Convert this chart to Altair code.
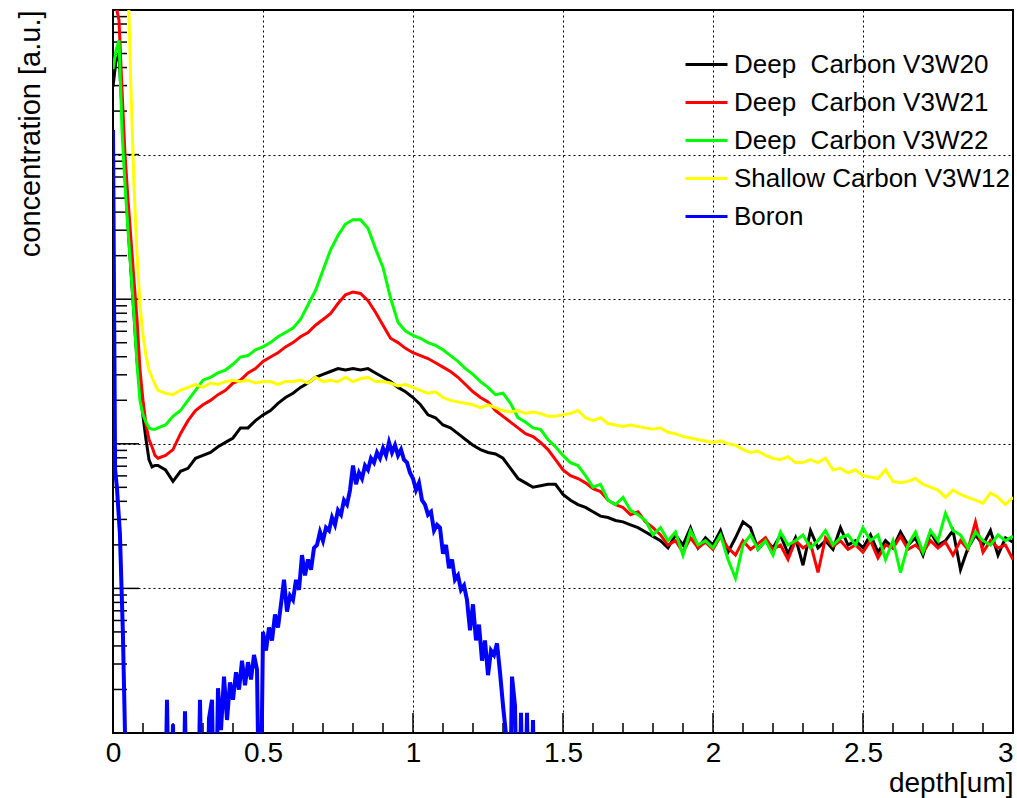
import altair as alt
import numpy as np
import pandas as pd

FONT = "Liberation Sans"

SERIES = ["Deep\u00a0 Carbon V3W20", "Deep\u00a0 Carbon V3W21", "Deep\u00a0 Carbon V3W22",
          "Shallow Carbon V3W12", "Boron"]
COLORS = ["#000000", "#ff0000", "#00ff00", "#ffff00", "#0000ff"]

# depth sampling (um)
HEAD_DEPTH = [0, 0.01, 0.02, 0.03, 0.04, 0.05, 0.06, 0.07, 0.08, 0.09, 0.10, 0.11, 0.12, 0.13, 0.14]
GRID_DEPTH = list(np.round(np.arange(0.15, 3.0001, 0.025), 3))
CARBON_DEPTH = HEAD_DEPTH + GRID_DEPTH

# log10(concentration)
V3W20_LOG = [4.47, 4.65, 4.69, 4.31, 3.86, 3.51, 3.19, 2.89, 2.58, 2.37, 2.19, 2.03, 1.89, 1.84, 1.85,
             1.85, 1.82, 1.74, 1.81, 1.83, 1.90, 1.92, 1.94, 1.98, 2.01,
             2.04, 2.11, 2.11, 2.16, 2.20, 2.23, 2.28, 2.32, 2.35, 2.39,
             2.42, 2.46, 2.48, 2.50, 2.52, 2.51, 2.52, 2.51, 2.52, 2.49,
             2.46, 2.43, 2.39, 2.36, 2.32, 2.27, 2.20, 2.18, 2.13, 2.11,
             2.07, 2.03, 1.99, 1.96, 1.94, 1.93, 1.90, 1.83, 1.76, 1.73,
             1.70, 1.71, 1.72, 1.72, 1.65, 1.61, 1.58, 1.56, 1.53, 1.50,
             1.49, 1.47, 1.46, 1.44, 1.42, 1.39, 1.36,
             1.33, 1.28, 1.37, 1.30, 1.42, 1.28, 1.35, 1.30, 1.40, 1.25, 1.35, 1.46,
             1.42, 1.27, 1.33, 1.28, 1.37, 1.24, 1.35, 1.16, 1.40, 1.28, 1.33, 1.27,
             1.42, 1.30, 1.33, 1.28, 1.37, 1.25, 1.33, 1.28, 1.39, 1.30, 1.35, 1.23,
             1.39, 1.30, 1.33, 1.40, 1.13, 1.28, 1.37, 1.30, 1.40, 1.23, 1.35, 1.32]

V3W21_LOG = [5.03, 5.03, 4.93, 4.45, 4.00, 3.69, 3.41, 3.13, 2.86, 2.51, 2.30, 2.13, 2.03, 1.98, 1.92,
             1.90, 1.92, 1.96, 2.07, 2.16, 2.23, 2.27, 2.30, 2.34, 2.37,
             2.42, 2.44, 2.49, 2.52, 2.57, 2.60, 2.63, 2.67, 2.70, 2.74,
             2.77, 2.82, 2.86, 2.90, 2.97, 3.03, 3.05, 3.04, 2.99, 2.91,
             2.82, 2.73, 2.70, 2.66, 2.63, 2.61, 2.59, 2.56, 2.53, 2.50,
             2.46, 2.41, 2.36, 2.32, 2.29, 2.23, 2.19, 2.15, 2.11, 2.07,
             2.05, 2.01, 1.96, 1.89, 1.82, 1.78, 1.76, 1.73, 1.69, 1.67,
             1.61, 1.58, 1.56, 1.51, 1.53, 1.46, 1.42,
             1.37, 1.30, 1.33, 1.25, 1.35, 1.28, 1.32, 1.27, 1.36, 1.28, 1.23, 1.33,
             1.27, 1.31, 1.35, 1.27, 1.30, 1.20, 1.33, 1.28, 1.31, 1.11, 1.35, 1.29,
             1.33, 1.27, 1.30, 1.25, 1.33, 1.21, 1.30, 1.28, 1.36, 1.27, 1.30, 1.25,
             1.33, 1.28, 1.32, 1.23, 1.33, 1.27, 1.46, 1.25, 1.33, 1.28, 1.30, 1.20]

V3W22_LOG = [4.59, 4.72, 4.79, 4.17, 3.79, 3.48, 3.19, 2.89, 2.55, 2.30, 2.20, 2.15, 2.11, 2.10, 2.10,
             2.11, 2.13, 2.19, 2.23, 2.30, 2.37, 2.44, 2.46, 2.49, 2.51,
             2.55, 2.60, 2.61, 2.65, 2.67, 2.70, 2.74, 2.77, 2.80, 2.86,
             2.96, 3.06, 3.20, 3.34, 3.44, 3.52, 3.55, 3.55, 3.49, 3.35,
             3.22, 3.01, 2.84, 2.78, 2.75, 2.73, 2.70, 2.68, 2.65, 2.61,
             2.57, 2.52, 2.48, 2.43, 2.39, 2.34, 2.35, 2.28, 2.18, 2.15,
             2.11, 2.10, 2.03, 1.98, 1.92, 1.87, 1.85, 1.78, 1.70, 1.72,
             1.61, 1.58, 1.63, 1.54, 1.51, 1.47, 1.37,
             1.42, 1.33, 1.39, 1.23, 1.40, 1.30, 1.33, 1.28, 1.37, 1.20, 1.07, 1.30,
             1.37, 1.27, 1.33, 1.23, 1.39, 1.30, 1.33, 1.37, 1.28, 1.33, 1.40, 1.30,
             1.35, 1.37, 1.30, 1.42, 1.33, 1.37, 1.20, 1.33, 1.11, 1.30, 1.39, 1.25,
             1.40, 1.33, 1.52, 1.40, 1.37, 1.28, 1.39, 1.33, 1.30, 1.37, 1.33, 1.36]

V3W12_LOG = [6.00, 6.00, 6.00, 6.00, 5.90, 5.21, 4.45, 3.79, 3.31, 2.96, 2.75, 2.61, 2.51, 2.46, 2.41,
             2.37, 2.35, 2.34, 2.37, 2.39, 2.41, 2.39, 2.42, 2.41, 2.43,
             2.44, 2.43, 2.44, 2.42, 2.43, 2.43, 2.41, 2.43, 2.43, 2.44,
             2.42, 2.46, 2.43, 2.44, 2.43, 2.46, 2.43, 2.45, 2.46, 2.43,
             2.43, 2.42, 2.40, 2.41, 2.39, 2.37, 2.35, 2.36, 2.32, 2.30,
             2.29, 2.28, 2.27, 2.25, 2.27, 2.25, 2.23, 2.22, 2.23, 2.21,
             2.22, 2.21, 2.19, 2.19, 2.20, 2.21, 2.23, 2.18, 2.16, 2.18,
             2.14, 2.13, 2.12, 2.13, 2.12, 2.11, 2.10, 2.11, 2.08, 2.07,
             2.05, 2.04, 2.03, 2.02, 2.01, 2.02, 2.00, 1.99, 1.96, 1.94,
             1.95, 1.92, 1.90, 1.89, 1.91, 1.87, 1.87, 1.89, 1.87, 1.90,
             1.82, 1.83, 1.80, 1.82, 1.78, 1.77, 1.76, 1.82, 1.74, 1.73,
             1.74, 1.76, 1.72, 1.70, 1.68, 1.63, 1.68, 1.65, 1.63, 1.61,
             1.59, 1.66, 1.63, 1.58, 1.63]

BORON_DEPTH = [0, 0.007, 0.013, 0.023, 0.033, 0.04, 0.05, 0.10] + \
    list(np.round(np.arange(0.15, 1.4201, 0.01), 2))
BORON_LOG = [4.17, 1.82, 1.70, 1.38, 0.69, 0.00, -1, -1,
             -1, -1, -1, 0.23, -1, 0.06, -1, -1, -1, 0.15,
             -1, -1, -0.01, -1, 0.23, -1, -1, 0.10, 0.23, -1,
             0.31, 0.02, 0.39, 0.09, 0.35, 0.23, 0.42, 0.30, 0.50, 0.33,
             0.49, 0.37, 0.54, 0.44, -1, 0.70, 0.57, 0.73, 0.64, 0.82,
             0.73, 0.89, 1.06, 0.84, 0.95, 0.92, 1.06, 0.99, 1.23, 1.09,
             1.20, 1.13, 1.28, 1.30, 1.39, 1.33, 1.42, 1.40, 1.49, 1.44,
             1.54, 1.51, 1.61, 1.58, 1.68, 1.85, 1.72, 1.80, 1.76, 1.85,
             1.82, 1.90, 1.87, 1.94, 1.90, 1.97, 1.92, 2.01, 1.94, 1.99,
             1.92, 1.96, 1.89, 1.87, 1.80, 1.76, 1.68, 1.73, 1.61, 1.58,
             1.51, 1.53, 1.40, 1.44, 1.42, 1.24, 1.30, 1.14, 1.20, 1.06,
             1.09, 0.99, 1.02, 0.92, 0.71, 0.89, 0.64, 0.75, 0.50, 0.64,
             0.40, 0.57, 0.54, 0.62, 0.42, 0.19, -0.01, -1, 0.39, 0.19,
             -1, 0.14, -1, 0.14, -1, 0.09, -1, -1]

X_MAJOR = [0, 0.5, 1, 1.5, 2, 2.5, 3]
Y_DECADES = [1, 10, 100, 1000, 10000, 100000]

frames = []
for name, depth, logs in [(SERIES[0], CARBON_DEPTH, V3W20_LOG),
                          (SERIES[1], CARBON_DEPTH, V3W21_LOG),
                          (SERIES[2], CARBON_DEPTH, V3W22_LOG),
                          (SERIES[3], CARBON_DEPTH, V3W12_LOG),
                          (SERIES[4], BORON_DEPTH, BORON_LOG)]:
    assert len(depth) == len(logs), (name, len(depth), len(logs))
    frames.append(pd.DataFrame({"series": name, "depth": depth, "logc": logs}))
df = pd.concat(frames, ignore_index=True)
df["conc"] = 10.0 ** df["logc"]

W, H = 900, 723
x_scale = alt.Scale(domain=[0, 3], nice=False, zero=False)
y_scale = alt.Scale(type="log", domain=[1, 100000], nice=False)

X_AXIS = alt.Axis(values=X_MAJOR, format="~g", grid=True, gridDash=[2, 3],
                  gridColor="black", gridWidth=1, gridOpacity=1,
                  ticks=False, tickSize=0, domain=False,
                  labelFont=FONT, labelFontSize=28, labelColor="black",
                  labelPadding=6, labelFlush=False, labelOverlap=False,
                  labelAlign={"condition": {"test": "datum.value == 3", "value": "right"},
                              "value": "center"},
                  title="depth[um]", titleFont=FONT, titleFontSize=28,
                  titleFontWeight="normal", titleColor="black",
                  titleAlign="right", titleBaseline="alphabetic",
                  titleX=W, titleY=58)
Y_AXIS = alt.Axis(values=Y_DECADES, grid=True, gridDash=[2, 3],
                  gridColor="black", gridWidth=1, gridOpacity=1,
                  labels=False, ticks=False, tickSize=0, domain=False,
                  title="concentration [a.u.]", titleFont=FONT, titleFontSize=29,
                  titleFontWeight="normal", titleColor="black",
                  titleAngle=270, titleAlign="right", titleBaseline="alphabetic",
                  titleX=39 - 113, titleY=0)

lines = alt.Chart(df).mark_line(clip=True).encode(
    x=alt.X("depth:Q", scale=x_scale, axis=X_AXIS),
    y=alt.Y("conc:Q", scale=y_scale, axis=Y_AXIS),
    color=alt.Color("series:N", scale=alt.Scale(domain=SERIES, range=COLORS),
                    legend=alt.Legend(orient="none", legendX=571, legendY=32, title=None,
                                      symbolType="stroke", symbolSize=1764,
                                      symbolStrokeWidth=3, labelFont=FONT,
                                      labelFontSize=26, labelColor="black",
                                      labelLimit=500, labelOffset=5, rowPadding=2,
                                      padding=0)),
    strokeWidth=alt.condition(alt.datum.series == "Boron", alt.value(4), alt.value(3)),
)

Y_MINOR = [m * 10 ** k for k in range(0, 5) for m in range(2, 10)]
X_MINOR = [round(0.1 * i, 1) for i in range(1, 30) if i % 5 != 0]

ymaj = alt.Chart(pd.DataFrame({"conc": [10, 100, 1000, 10000]})).mark_rule(
    color="black", strokeWidth=1.5).encode(
    y=alt.Y("conc:Q", scale=y_scale, axis=Y_AXIS), x=alt.value(0), x2=alt.value(26))
ymin = alt.Chart(pd.DataFrame({"conc": Y_MINOR})).mark_rule(
    color="black", strokeWidth=1.5).encode(
    y=alt.Y("conc:Q", scale=y_scale, axis=Y_AXIS), x=alt.value(0), x2=alt.value(14))
xmaj = alt.Chart(pd.DataFrame({"depth": X_MAJOR})).mark_rule(
    color="black", strokeWidth=1.5).encode(
    x=alt.X("depth:Q", scale=x_scale, axis=X_AXIS), y=alt.value(H), y2=alt.value(H - 20))
xmin = alt.Chart(pd.DataFrame({"depth": X_MINOR})).mark_rule(
    color="black", strokeWidth=1.5).encode(
    x=alt.X("depth:Q", scale=x_scale, axis=X_AXIS), y=alt.value(H), y2=alt.value(H - 10))

chart = alt.layer(ymaj, ymin, xmaj, xmin, lines).properties(
    width=W, height=H,
    autosize=alt.AutoSizeParams(type="none"),
    padding={"left": 113, "top": 10, "right": 4, "bottom": 65},
    background="white",
).configure_view(stroke="black", strokeWidth=2)

chart.save("out.html", embed_options={"renderer": "svg", "actions": False})
